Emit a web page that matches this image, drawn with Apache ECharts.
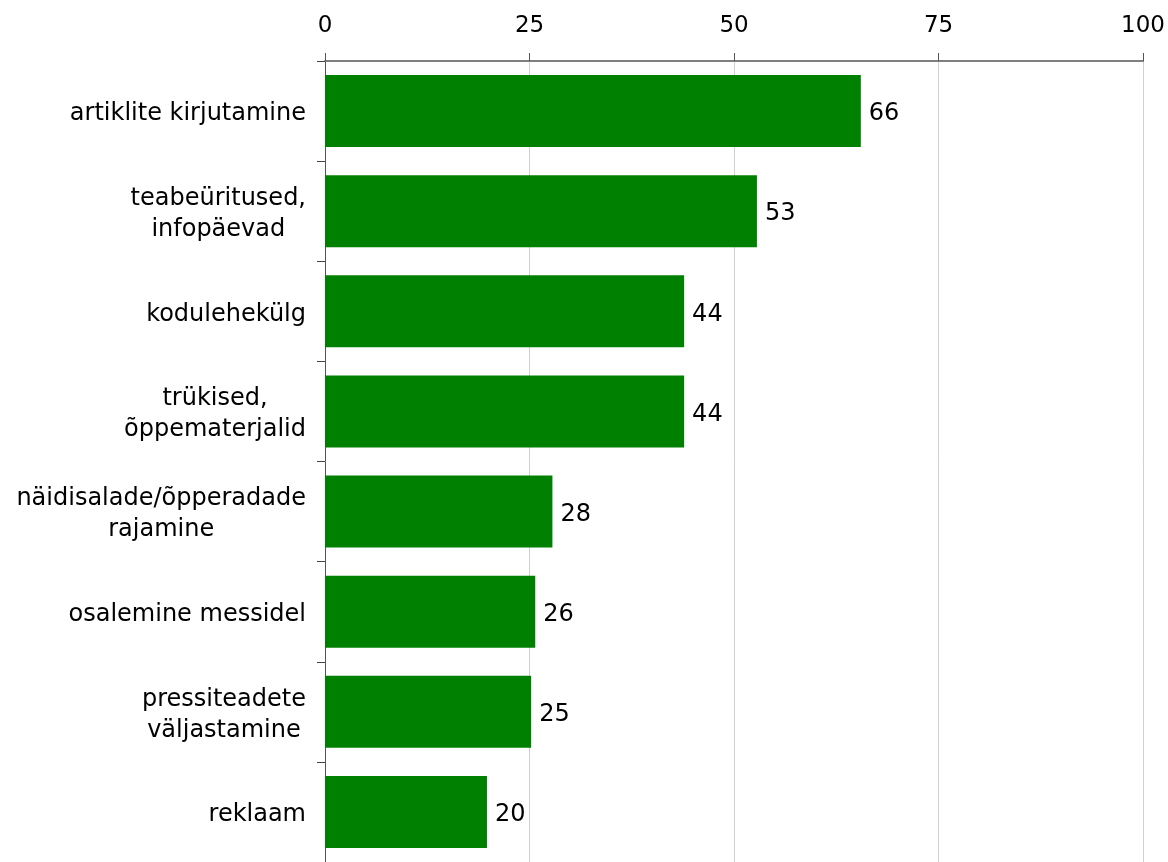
<!DOCTYPE html>
<html><head><meta charset="utf-8">
<script src="https://cdn.jsdelivr.net/npm/echarts@6/dist/echarts.min.js"></script>
<style>html,body{margin:0;padding:0;background:#fff}#c{width:1168px;height:862px}</style>
</head><body><div id="c"></div>
<script>
const categories = ["artiklite kirjutamine", "teabeüritused,\ninfopäevad", "kodulehekülg", "trükised,\nõppematerjalid", "näidisalade/õpperadade\nrajamine", "osalemine messidel", "pressiteadete\nväljastamine", "reklaam"];
const values = [65.5, 52.8, 43.9, 43.9, 27.8, 25.7, 25.2, 19.8];
const labels = [66, 53, 44, 44, 28, 26, 25, 20];
const xTicks = [0, 25, 50, 75, 100];

const chart = echarts.init(document.getElementById('c'));
const font = 'DejaVu Sans, Verdana, sans-serif';
chart.setOption({
  animation: false,
  grid: { left: 325, right: 24, top: 61, bottom: 0, containLabel: false },
  xAxis: {
    type: 'value', position: 'top', min: xTicks[0], max: xTicks[xTicks.length - 1], interval: 25,
    axisLine: { show: true, lineStyle: { color: '#7f7f7f', width: 2 } },
    axisTick: { show: true, length: 8, lineStyle: { color: '#555', width: 1 } },
    axisLabel: { color: '#000', fontSize: 23, fontFamily: font, margin: 23 },
    splitLine: { show: true, lineStyle: { color: '#d0d0d0', width: 1 } }
  },
  yAxis: {
    type: 'category', inverse: true, data: categories,
    axisLine: { show: true, lineStyle: { color: '#555', width: 1 } },
    axisTick: { show: true, length: 8, lineStyle: { color: '#444', width: 1 } },
    axisLabel: {
      color: '#000', fontSize: 24, fontFamily: font, margin: 19, lineHeight: 31,
      padding: [6, 0, 0, 0],
      formatter: v => v.split('\n').map(s => '{c|' + s + '}').join('\n'),
      rich: { c: { align: 'center', fontSize: 24, fontFamily: font, color: '#000', lineHeight: 31 } }
    }
  },
  series: [{
    type: 'bar', data: values, barCategoryGap: '28%',
    itemStyle: { color: '#008000' },
    label: {
      show: true, position: 'right', distance: 8, offset: [0, 3], color: '#000', fontSize: 24, fontFamily: font,
      formatter: p => String(labels[p.dataIndex])
    }
  }]
});
</script></body></html>
